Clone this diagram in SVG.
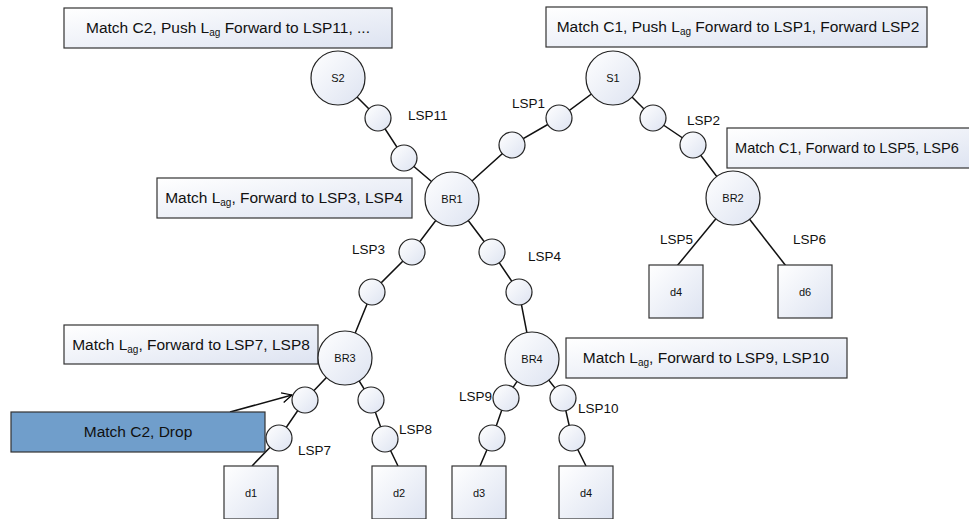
<svg xmlns="http://www.w3.org/2000/svg" width="969" height="519" viewBox="0 0 969 519">
<defs>
<linearGradient id="g" x1="0" y1="0" x2="1" y2="1">
<stop offset="0" stop-color="#ffffff"/>
<stop offset="1" stop-color="#dde3f1"/>
</linearGradient>
<marker id="arr" viewBox="0 0 12 12" refX="11" refY="6" markerWidth="12" markerHeight="12" markerUnits="userSpaceOnUse" orient="auto">
<path d="M1,1 L11,6 L1,11" fill="none" stroke="#000" stroke-width="1.2"/>
</marker>
</defs>
<style>
.box{fill:url(#g);stroke:#333;stroke-width:1.2}
.nd{fill:url(#g);stroke:#222;stroke-width:1.2}
.ln{stroke:#111;stroke-width:1.5;fill:none}
.t{font-family:"Liberation Sans",Arial,sans-serif;font-size:13.5px;fill:#111}
.b{font-family:"Liberation Sans",Arial,sans-serif;font-size:15.5px;fill:#111}
.s{font-size:10px}
.n{font-family:"Liberation Sans",Arial,sans-serif;font-size:11px;fill:#111;text-anchor:middle}
.m{text-anchor:middle}
</style>
<rect width="969" height="519" fill="#fff"/>
<g id="connectors">
<polyline class="ln" points="338,78 378,118 404,158 452,199"/>
<polyline class="ln" points="613,78 559,118 512,145 452,199"/>
<polyline class="ln" points="613,78 653,118 693,145 733,198"/>
<line class="ln" x1="733" y1="198" x2="677" y2="266"/>
<line class="ln" x1="733" y1="198" x2="786" y2="266"/>
<polyline class="ln" points="452,199 412,252 372,292 345,358"/>
<polyline class="ln" points="452,199 492,252 519,292 532,359"/>
<polyline class="ln" points="345,358 305,400 279,438 252,466"/>
<polyline class="ln" points="345,358 371,400 385,439 398,466"/>
<polyline class="ln" points="532,359 506,398 492,438 480,466"/>
<polyline class="ln" points="532,359 563,398 572,438 586,466"/>
<line class="ln" x1="230" y1="412" x2="292" y2="395" marker-end="url(#arr)"/>
</g>
<g id="box-s2">
<rect class="box" x="64" y="8" width="328" height="40"/>
<text class="b m" x="228" y="33">Match C2, Push L<tspan class="s" dy="3">ag</tspan><tspan dy="-3"> Forward to LSP11, ...</tspan></text>
</g>
<g id="box-s1">
<rect class="box" x="546" y="7" width="381" height="40"/>
<text class="b m" x="738" y="32">Match C1, Push L<tspan class="s" dy="3">ag</tspan><tspan dy="-3"> Forward to LSP1, Forward LSP2</tspan></text>
</g>
<g id="box-br2">
<rect class="box" x="727" y="128" width="260" height="40"/>
<text class="b" x="735" y="153" style="font-size:14.6px">Match C1, Forward to LSP5, LSP6</text>
</g>
<g id="box-br1">
<rect class="box" x="157" y="178" width="255" height="40"/>
<text class="b m" x="284" y="203">Match L<tspan class="s" dy="3">ag</tspan><tspan dy="-3">, Forward to LSP3, LSP4</tspan></text>
</g>
<g id="box-br3">
<rect class="box" x="64" y="325" width="254" height="39"/>
<text class="b m" x="191" y="350">Match L<tspan class="s" dy="3">ag</tspan><tspan dy="-3">, Forward to LSP7, LSP8</tspan></text>
</g>
<g id="box-br4">
<rect class="box" x="566" y="338" width="281" height="40"/>
<text class="b m" x="706" y="363">Match L<tspan class="s" dy="3">ag</tspan><tspan dy="-3">, Forward to LSP9, LSP10</tspan></text>
</g>
<g id="box-drop">
<rect x="11" y="412" width="254" height="40" fill="#709ecb" stroke="#333" stroke-width="1.2"/>
<text class="b m" x="138" y="437">Match C2, Drop</text>
</g>
<g id="S2"><circle class="nd" cx="338" cy="78" r="27"/><text class="n" x="338" y="82">S2</text></g>
<g id="S1"><circle class="nd" cx="613" cy="78" r="27"/><text class="n" x="613" y="82">S1</text></g>
<g id="BR1"><circle class="nd" cx="452" cy="199" r="27"/><text class="n" x="452" y="203">BR1</text></g>
<g id="BR2"><circle class="nd" cx="733" cy="198" r="27"/><text class="n" x="733" y="202">BR2</text></g>
<g id="BR3"><circle class="nd" cx="345" cy="358" r="27"/><text class="n" x="345" y="362">BR3</text></g>
<g id="BR4"><circle class="nd" cx="532" cy="359" r="27"/><text class="n" x="532" y="363">BR4</text></g>
<g id="lsp11"><circle class="nd" cx="378" cy="118" r="13"/><circle class="nd" cx="404" cy="158" r="13"/></g>
<g id="lsp1"><circle class="nd" cx="559" cy="118" r="13"/><circle class="nd" cx="512" cy="145" r="13"/></g>
<g id="lsp2"><circle class="nd" cx="653" cy="118" r="13"/><circle class="nd" cx="693" cy="145" r="13"/></g>
<g id="lsp3"><circle class="nd" cx="412" cy="252" r="13"/><circle class="nd" cx="372" cy="292" r="13"/></g>
<g id="lsp4"><circle class="nd" cx="492" cy="252" r="13"/><circle class="nd" cx="519" cy="292" r="13"/></g>
<g id="lsp7"><circle class="nd" cx="305" cy="400" r="13"/><circle class="nd" cx="279" cy="438" r="13"/></g>
<g id="lsp8"><circle class="nd" cx="371" cy="400" r="13"/><circle class="nd" cx="385" cy="439" r="13"/></g>
<g id="lsp9"><circle class="nd" cx="506" cy="398" r="13"/><circle class="nd" cx="492" cy="438" r="13"/></g>
<g id="lsp10"><circle class="nd" cx="563" cy="398" r="13"/><circle class="nd" cx="572" cy="438" r="13"/></g>
<g id="d4a"><rect class="box" x="649" y="265" width="54" height="53"/><text class="n" x="676" y="296">d4</text></g>
<g id="d6"><rect class="box" x="778" y="265" width="54" height="53"/><text class="n" x="805" y="296">d6</text></g>
<g id="d1"><rect class="box" x="224" y="466" width="54" height="53"/><text class="n" x="251" y="497">d1</text></g>
<g id="d2"><rect class="box" x="372" y="466" width="54" height="53"/><text class="n" x="399" y="497">d2</text></g>
<g id="d3"><rect class="box" x="452" y="466" width="54" height="53"/><text class="n" x="479" y="497">d3</text></g>
<g id="d4b"><rect class="box" x="559" y="466" width="54" height="53"/><text class="n" x="586" y="497">d4</text></g>
<g id="labels">
<text class="t" x="408" y="120">LSP11</text>
<text class="t" x="512" y="108">LSP1</text>
<text class="t" x="687" y="125">LSP2</text>
<text class="t" x="352" y="254">LSP3</text>
<text class="t" x="528" y="261">LSP4</text>
<text class="t" x="660" y="244">LSP5</text>
<text class="t" x="793" y="244">LSP6</text>
<text class="t" x="298" y="455">LSP7</text>
<text class="t" x="399" y="434">LSP8</text>
<text class="t" x="459" y="401">LSP9</text>
<text class="t" x="578" y="413">LSP10</text>
</g>
</svg>
